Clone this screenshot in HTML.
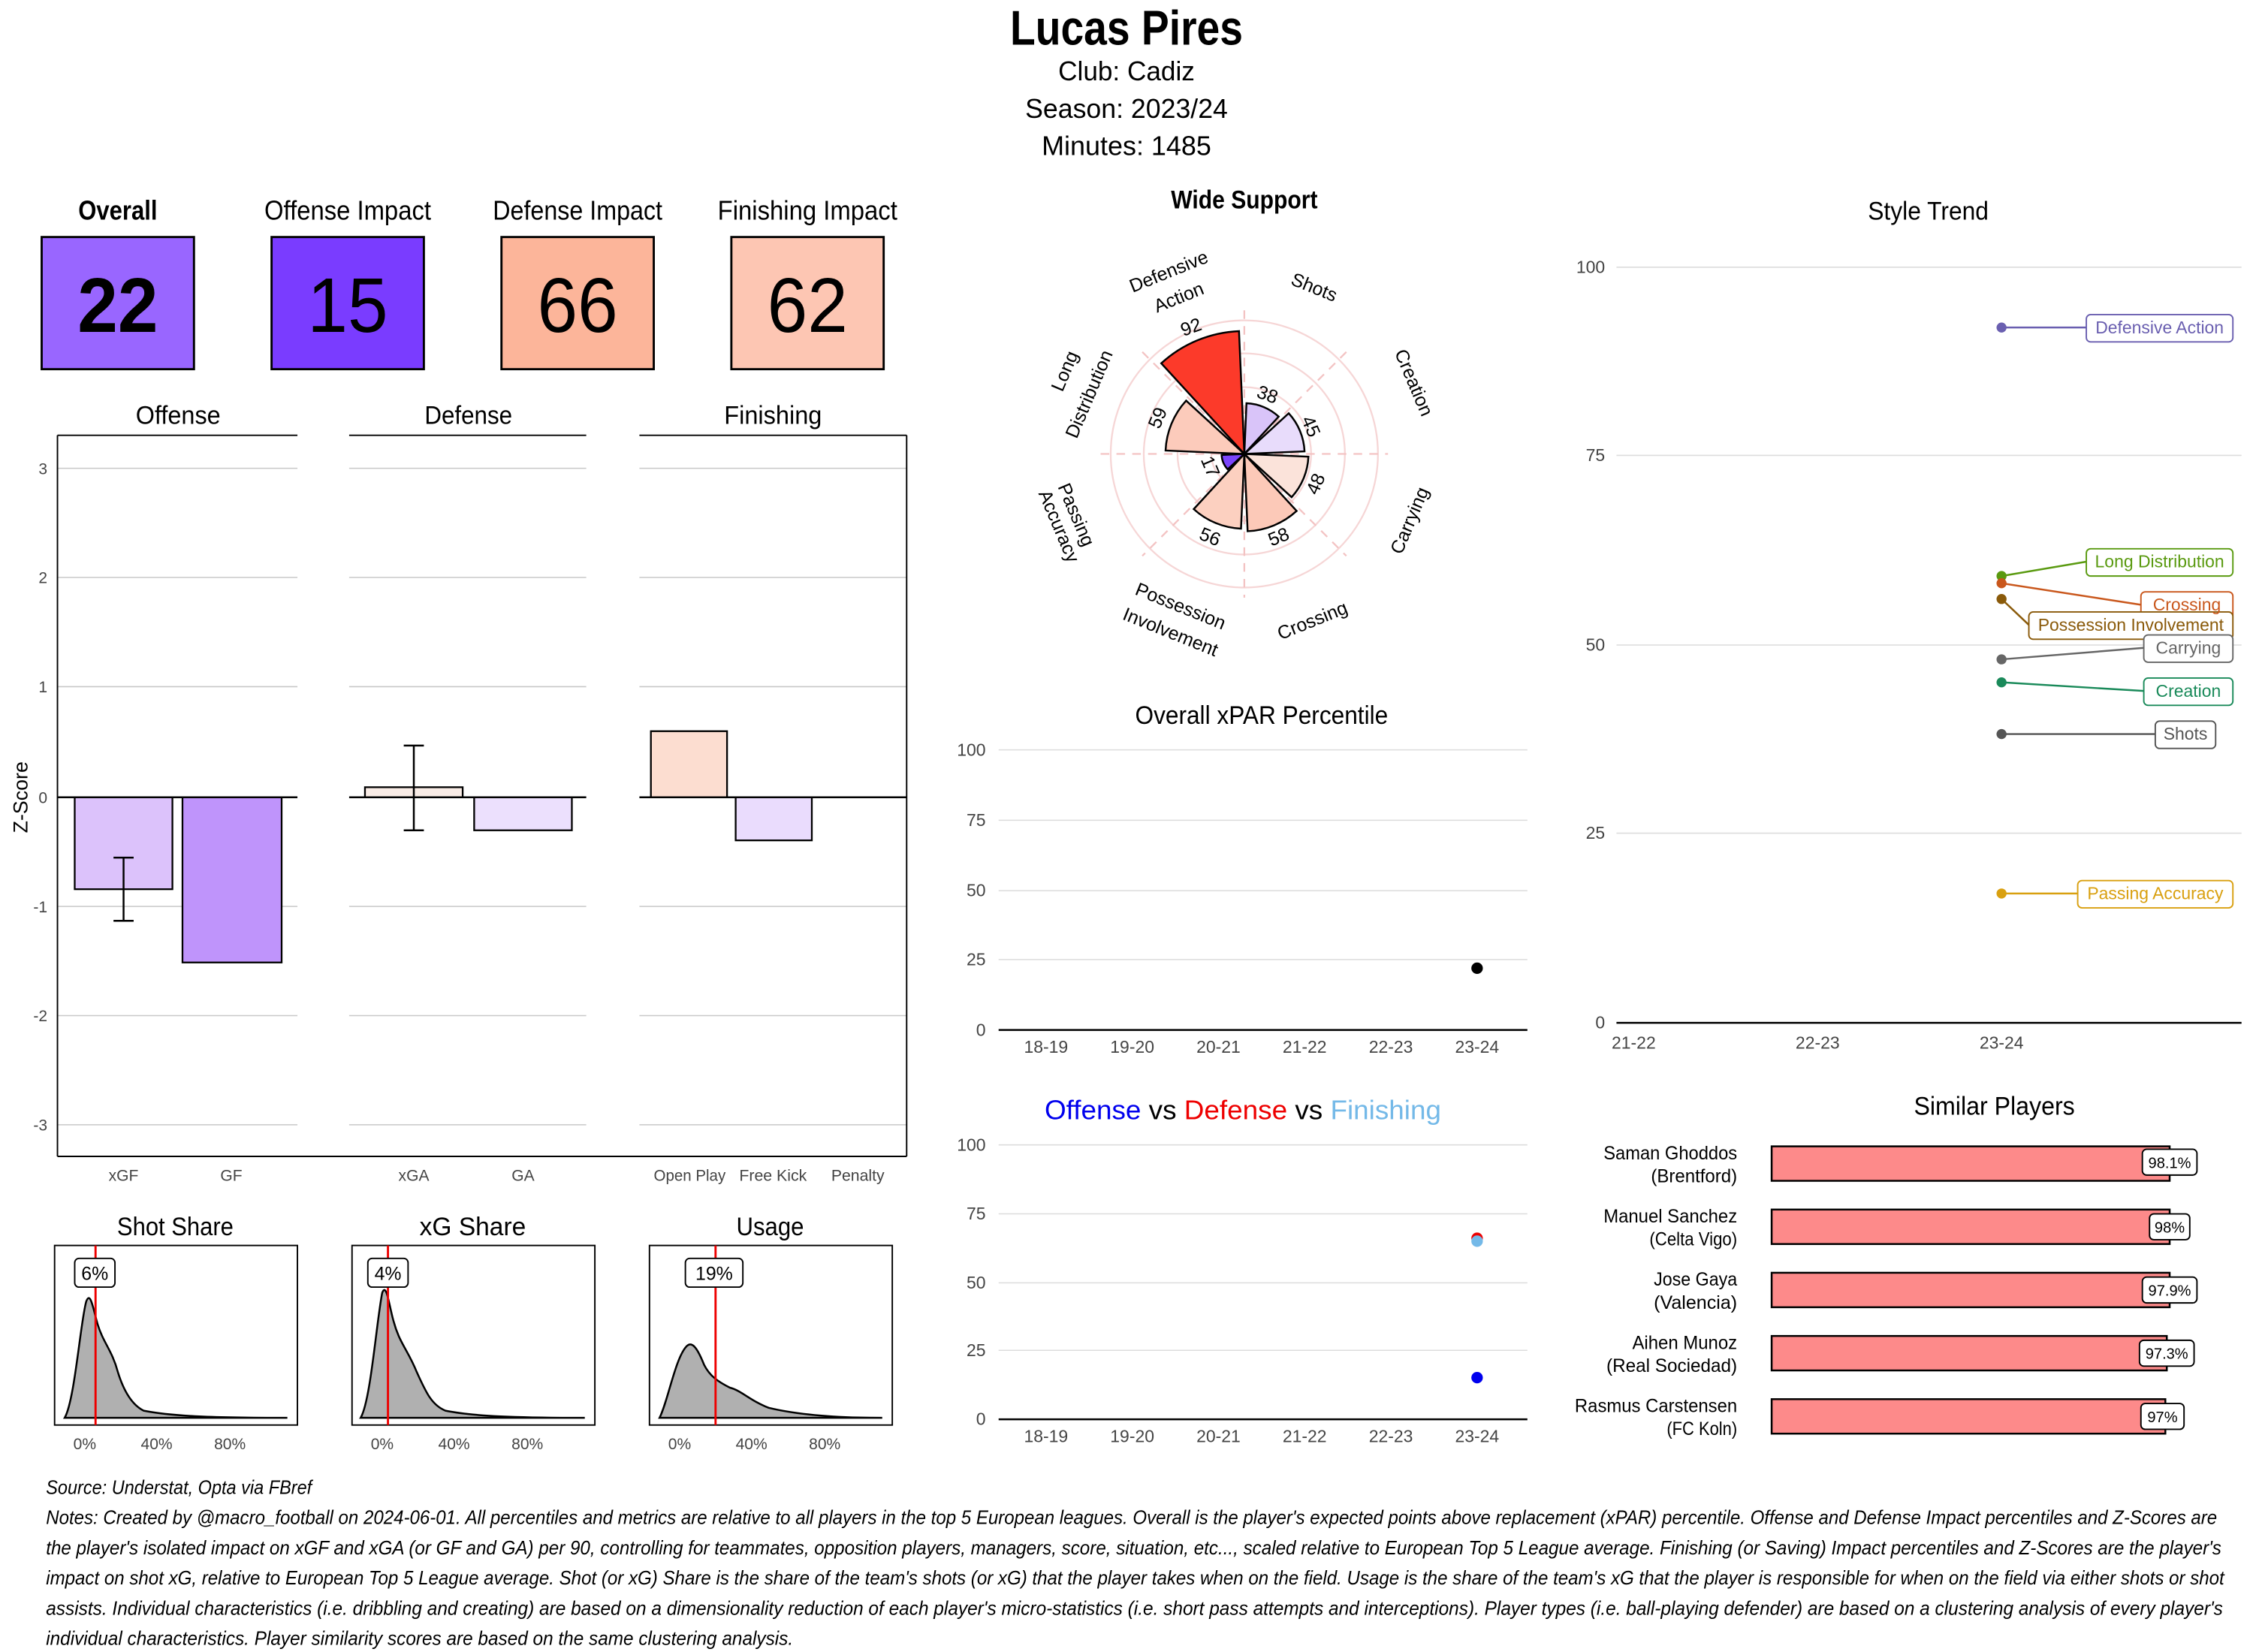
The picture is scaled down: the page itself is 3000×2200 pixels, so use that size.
<!DOCTYPE html>
<html><head><meta charset="utf-8"><style>
html,body{margin:0;padding:0;background:#fff;}
svg{display:block;}
text{font-family:"Liberation Sans Narrow","Liberation Sans",sans-serif;}
.a{font-family:"Liberation Sans",sans-serif;}
</style></head><body>
<svg width="3000" height="2200" viewBox="0 0 1568 1150" preserveAspectRatio="none" xmlns="http://www.w3.org/2000/svg">
<rect width="1568" height="1150" fill="#fff"/>
<!-- Header -->
<text x="784" y="31" text-anchor="middle" font-size="34" font-weight="bold" textLength="162" lengthAdjust="spacingAndGlyphs">Lucas Pires</text>
<text x="784" y="56" text-anchor="middle" font-size="19" textLength="95" lengthAdjust="spacingAndGlyphs">Club:  Cadiz</text>
<text x="784" y="82" text-anchor="middle" font-size="19" textLength="141" lengthAdjust="spacingAndGlyphs">Season:  2023/24</text>
<text x="784" y="108" text-anchor="middle" font-size="19" textLength="118" lengthAdjust="spacingAndGlyphs">Minutes:  1485</text>

<!-- score boxes -->
<g font-size="19" text-anchor="middle" lengthAdjust="spacingAndGlyphs">
<text x="82" y="153" font-weight="bold" textLength="55" lengthAdjust="spacingAndGlyphs">Overall</text>
<text x="242" y="153" textLength="116" lengthAdjust="spacingAndGlyphs">Offense Impact</text>
<text x="402" y="153" textLength="118" lengthAdjust="spacingAndGlyphs">Defense Impact</text>
<text x="562" y="153" textLength="125" lengthAdjust="spacingAndGlyphs">Finishing Impact</text>
</g>
<g stroke="#000" stroke-width="1.5">
<rect x="29" y="165" width="106" height="92" fill="#9966ff"/>
<rect x="189" y="165" width="106" height="92" fill="#7a3cff"/>
<rect x="349" y="165" width="106" height="92" fill="#fcb59a"/>
<rect x="509" y="165" width="106" height="92" fill="#fdc6b3"/>
</g>
<g font-size="54" text-anchor="middle">
<text x="82" y="231" font-weight="bold" textLength="56" lengthAdjust="spacingAndGlyphs">22</text>
<text x="242" y="231" textLength="56" lengthAdjust="spacingAndGlyphs">15</text>
<text x="402" y="231" textLength="56" lengthAdjust="spacingAndGlyphs">66</text>
<text x="562" y="231" textLength="56" lengthAdjust="spacingAndGlyphs">62</text>
</g>

<!-- Z-score facets -->
<g font-size="18" text-anchor="middle">
<text x="124" y="295" textLength="59" lengthAdjust="spacingAndGlyphs">Offense</text>
<text x="326" y="295" textLength="61" lengthAdjust="spacingAndGlyphs">Defense</text>
<text x="538" y="295" textLength="68" lengthAdjust="spacingAndGlyphs">Finishing</text>
</g>
<g stroke="#c8c8c8" stroke-width="0.8">
<line x1="40" x2="207" y1="326" y2="326"/><line x1="40" x2="207" y1="402" y2="402"/><line x1="40" x2="207" y1="478" y2="478"/><line x1="40" x2="207" y1="631" y2="631"/><line x1="40" x2="207" y1="707" y2="707"/><line x1="40" x2="207" y1="783" y2="783"/>
<line x1="243" x2="408" y1="326" y2="326"/><line x1="243" x2="408" y1="402" y2="402"/><line x1="243" x2="408" y1="478" y2="478"/><line x1="243" x2="408" y1="631" y2="631"/><line x1="243" x2="408" y1="707" y2="707"/><line x1="243" x2="408" y1="783" y2="783"/>
<line x1="445" x2="631" y1="326" y2="326"/><line x1="445" x2="631" y1="402" y2="402"/><line x1="445" x2="631" y1="478" y2="478"/><line x1="445" x2="631" y1="631" y2="631"/><line x1="445" x2="631" y1="707" y2="707"/><line x1="445" x2="631" y1="783" y2="783"/>
</g>
<g stroke="#000" stroke-width="1">
<line x1="40" x2="207" y1="303" y2="303"/><line x1="243" x2="408" y1="303" y2="303"/><line x1="445" x2="631" y1="303" y2="303"/>
<line x1="40" x2="40" y1="303" y2="805"/><line x1="40" x2="631" y1="805" y2="805"/><line x1="631" x2="631" y1="303" y2="805"/>
</g>
<g stroke="#000" stroke-width="1.2">
<rect x="52" y="555" width="68" height="64" fill="#dcc2fb"/>
<rect x="127" y="555" width="69" height="115" fill="#bf94fb"/>
<rect x="254" y="548" width="68" height="7" fill="#f9ece6"/>
<rect x="330" y="555" width="68" height="23" fill="#ece0fd"/>
<rect x="453" y="509" width="53" height="46" fill="#fcddd0"/>
<rect x="512" y="555" width="53" height="30" fill="#eadcfd"/>
</g>
<g stroke="#000" stroke-width="1.3">
<line x1="40" x2="207" y1="555" y2="555"/><line x1="243" x2="408" y1="555" y2="555"/><line x1="445" x2="631" y1="555" y2="555"/>
<line x1="86" x2="86" y1="597" y2="641"/><line x1="79" x2="93" y1="597" y2="597"/><line x1="79" x2="93" y1="641" y2="641"/>
<line x1="288" x2="288" y1="519" y2="578"/><line x1="281" x2="295" y1="519" y2="519"/><line x1="281" x2="295" y1="578" y2="578"/>
</g>
<g font-size="11" fill="#444" text-anchor="end">
<text x="33" y="330">3</text><text x="33" y="406">2</text><text x="33" y="482">1</text><text x="33" y="559">0</text><text x="33" y="635">-1</text><text x="33" y="711">-2</text><text x="33" y="787">-3</text>
</g>
<text transform="translate(19,555) rotate(-90)" text-anchor="middle" font-size="14">Z-Score</text>
<g font-size="11" fill="#444" text-anchor="middle">
<text x="86" y="822">xGF</text><text x="161" y="822">GF</text><text x="288" y="822">xGA</text><text x="364" y="822">GA</text>
<text x="480" y="822" textLength="50" lengthAdjust="spacingAndGlyphs">Open Play</text><text x="538" y="822" textLength="47" lengthAdjust="spacingAndGlyphs">Free Kick</text><text x="597" y="822" textLength="37" lengthAdjust="spacingAndGlyphs">Penalty</text>
</g>

<!-- share panels -->
<g font-size="18" text-anchor="middle">
<text x="122" y="860" textLength="81" lengthAdjust="spacingAndGlyphs">Shot Share</text><text x="329" y="860" textLength="74" lengthAdjust="spacingAndGlyphs">xG Share</text><text x="536" y="860" textLength="47" lengthAdjust="spacingAndGlyphs">Usage</text>
</g>
<g fill="#b0b0b0" stroke="#000" stroke-width="1.3">
<path d="M45,987 C52,975 56,920 60,906 C63,898 65,912 68,922 C72,935 78,940 82,955 C86,968 92,978 100,982 C120,986 150,987 200,987 L200,987 Z"/>
<path d="M251,987 C258,975 262,920 266,900 C269,892 271,910 274,920 C278,935 284,940 290,955 C296,968 300,978 310,982 C330,986 360,987 407,987 Z"/>
<path d="M459,987 C465,975 470,945 478,937 C482,933 486,940 490,950 C494,958 500,962 508,966 C516,968 522,975 535,980 C560,986 590,987 614,987 Z"/>
</g>
<g fill="none" stroke="#000" stroke-width="1">
<rect x="38" y="867" width="169" height="125"/><rect x="245" y="867" width="169" height="125"/><rect x="452" y="867" width="169" height="125"/>
</g>
<g stroke="#e00" stroke-width="1.5">
<line x1="66.5" x2="66.5" y1="867" y2="992"/><line x1="270" x2="270" y1="867" y2="992"/><line x1="498" x2="498" y1="867" y2="992"/>
</g>
<g fill="#fff" stroke="#000" stroke-width="1">
<rect x="52" y="876" width="28" height="20" rx="3"/><rect x="256" y="876" width="28" height="20" rx="3"/><rect x="477" y="876" width="40" height="20" rx="3"/>
</g>
<g font-size="13" text-anchor="middle" class="a">
<text x="66" y="891">6%</text><text x="270" y="891">4%</text><text x="497" y="891">19%</text>
</g>
<g font-size="11" fill="#444" text-anchor="middle">
<text x="59" y="1009">0%</text><text x="109" y="1009">40%</text><text x="160" y="1009">80%</text>
<text x="266" y="1009">0%</text><text x="316" y="1009">40%</text><text x="367" y="1009">80%</text>
<text x="473" y="1009">0%</text><text x="523" y="1009">40%</text><text x="574" y="1009">80%</text>
</g>

<!-- Polar -->
<text x="866" y="145" text-anchor="middle" font-size="18" font-weight="bold" textLength="102" lengthAdjust="spacingAndGlyphs">Wide Support</text>
<g fill="none" stroke="#f6d6d6" stroke-width="1.2">
<circle cx="866" cy="316" r="23"/><circle cx="866" cy="316" r="46.5"/><circle cx="866" cy="316" r="70"/><circle cx="866" cy="316" r="93"/>
</g>
<g stroke="#f3c3c3" stroke-width="1.2" stroke-dasharray="6,5">
<line x1="866" y1="216" x2="866" y2="416"/><line x1="766" y1="316" x2="966" y2="316"/>
<line x1="795" y1="245" x2="937" y2="387"/><line x1="937" y1="245" x2="795" y2="387"/>
</g>
<g stroke="#000" stroke-width="1.3">
<path d="M866,316 L867.5,280.7 A35.3,35.3 0 0 1 889.9,290 Z" fill="#d9c4f9"/>
<path d="M866,316 L896.9,287.7 A41.9,41.9 0 0 1 907.9,314.2 Z" fill="#e8dcfb"/>
<path d="M866,316 L910.6,317.9 A44.6,44.6 0 0 1 898.9,346.1 Z" fill="#fbe3da"/>
<path d="M866,316 L902.4,355.7 A53.9,53.9 0 0 1 868.3,369.8 Z" fill="#fcc9b8"/>
<path d="M866,316 L863.7,368 A52.1,52.1 0 0 1 830.8,354.4 Z" fill="#fcd0c0"/>
<path d="M866,316 L854.4,326.7 A15.8,15.8 0 0 1 850.2,316.7 Z" fill="#7b45fb"/>
<path d="M866,316 L811.2,313.6 A54.9,54.9 0 0 1 825.5,278.9 Z" fill="#fccbbb"/>
<path d="M866,316 L808.2,252.9 A85.6,85.6 0 0 1 862.3,230.5 Z" fill="#fc3a2a"/>
</g>
<g font-size="13" class="a" text-anchor="middle">
<text x="829" y="232" transform="rotate(-20 829 228)">92</text>
<text x="882" y="279" transform="rotate(20 882 275)">38</text>
<text x="912" y="301" transform="rotate(67 912 297)">45</text>
<text x="916" y="341" transform="rotate(-67 916 337)">48</text>
<text x="890" y="378" transform="rotate(-22 890 374)">58</text>
<text x="842" y="378" transform="rotate(22 842 374)">56</text>
<text x="842" y="329" transform="rotate(67 842 325)">17</text>
<text x="806" y="295" transform="rotate(-67 806 291)">59</text>
</g>
<g font-size="13" class="a" text-anchor="middle">
<text transform="translate(815,193) rotate(-22)">Defensive</text>
<text transform="translate(822,211) rotate(-22)">Action</text>
<text transform="translate(913,204) rotate(22)">Shots</text>
<text transform="translate(980,268) rotate(67)">Creation</text>
<text transform="translate(985,364) rotate(-67)">Carrying</text>
<text transform="translate(915,436) rotate(-22)">Crossing</text>
<text transform="translate(820,426) rotate(22)">Possession</text>
<text transform="translate(813,444) rotate(22)">Involvement</text>
<text transform="translate(745,360) rotate(67)">Passing</text>
<text transform="translate(733,368) rotate(67)">Accuracy</text>
<text transform="translate(745,260) rotate(-67)">Long</text>
<text transform="translate(762,276) rotate(-67)">Distribution</text>
</g>

<!-- Overall xPAR -->
<text x="878" y="504" text-anchor="middle" font-size="18" textLength="176" lengthAdjust="spacingAndGlyphs">Overall xPAR Percentile</text>
<g stroke="#dcdcdc" stroke-width="0.8">
<line x1="695" x2="1063" y1="522" y2="522"/><line x1="695" x2="1063" y1="571" y2="571"/><line x1="695" x2="1063" y1="620" y2="620"/><line x1="695" x2="1063" y1="668" y2="668"/>
<line x1="695" x2="1063" y1="797" y2="797"/><line x1="695" x2="1063" y1="845" y2="845"/><line x1="695" x2="1063" y1="893" y2="893"/><line x1="695" x2="1063" y1="940" y2="940"/>
</g>
<line x1="695" x2="1063" y1="717" y2="717" stroke="#000" stroke-width="1.3"/>
<line x1="695" x2="1063" y1="988" y2="988" stroke="#000" stroke-width="1.3"/>
<g font-size="12" fill="#444" text-anchor="end" class="a">
<text x="686" y="526">100</text><text x="686" y="575">75</text><text x="686" y="624">50</text><text x="686" y="672">25</text><text x="686" y="721">0</text>
<text x="686" y="801">100</text><text x="686" y="849">75</text><text x="686" y="897">50</text><text x="686" y="944">25</text><text x="686" y="992">0</text>
</g>
<g font-size="12" fill="#444" text-anchor="middle" class="a">
<text x="728" y="733">18-19</text><text x="788" y="733">19-20</text><text x="848" y="733">20-21</text><text x="908" y="733">21-22</text><text x="968" y="733">22-23</text><text x="1028" y="733">23-24</text>
<text x="728" y="1004">18-19</text><text x="788" y="1004">19-20</text><text x="848" y="1004">20-21</text><text x="908" y="1004">21-22</text><text x="968" y="1004">22-23</text><text x="1028" y="1004">23-24</text>
</g>
<circle cx="1028" cy="674" r="4" fill="#000"/>
<text x="865" y="779" text-anchor="middle" font-size="19" textLength="276" lengthAdjust="spacingAndGlyphs"><tspan fill="#0000ee">Offense</tspan><tspan fill="#000">  vs  </tspan><tspan fill="#e00">Defense</tspan><tspan fill="#000">  vs  </tspan><tspan fill="#74b9e8">Finishing</tspan></text>
<circle cx="1028" cy="862" r="4" fill="#e00"/>
<circle cx="1028" cy="864" r="4" fill="#74b9e8"/>
<circle cx="1028" cy="959" r="4" fill="#0000ee"/>

<!-- Style trend -->
<text x="1342" y="153" text-anchor="middle" font-size="18" textLength="84" lengthAdjust="spacingAndGlyphs">Style Trend</text>
<g stroke="#dcdcdc" stroke-width="0.8">
<line x1="1125" x2="1560" y1="186" y2="186"/><line x1="1125" x2="1560" y1="317" y2="317"/><line x1="1125" x2="1560" y1="449" y2="449"/><line x1="1125" x2="1560" y1="580" y2="580"/>
</g>
<line x1="1125" x2="1560" y1="712" y2="712" stroke="#000" stroke-width="1.3"/>
<g font-size="12" fill="#444" text-anchor="end" class="a">
<text x="1117" y="190">100</text><text x="1117" y="321">75</text><text x="1117" y="453">50</text><text x="1117" y="584">25</text><text x="1117" y="716">0</text>
</g>
<g font-size="12" fill="#444" text-anchor="middle" class="a">
<text x="1137" y="730">21-22</text><text x="1265" y="730">22-23</text><text x="1393" y="730">23-24</text>
</g>
<g stroke-width="1.3" fill="none">
<path d="M1393,228 L1452,228" stroke="#6a5fb0"/>
<path d="M1393,401 L1452,391" stroke="#5a9a10"/>
<path d="M1393,406 L1490,421" stroke="#c9571c"/>
<path d="M1393,417 L1412,435" stroke="#8a5a0a"/>
<path d="M1393,459 L1492,451" stroke="#666"/>
<path d="M1393,475 L1492,481" stroke="#1a8a5a"/>
<path d="M1393,511 L1500,511" stroke="#555"/>
<path d="M1393,622 L1446,622" stroke="#d9a010"/>
</g>
<circle cx="1393" cy="228" r="3.5" fill="#6a5fb0"/>
<circle cx="1393" cy="401" r="3.5" fill="#5a9a10"/>
<circle cx="1393" cy="406" r="3.5" fill="#c9571c"/>
<circle cx="1393" cy="417" r="3.5" fill="#8a5a0a"/>
<circle cx="1393" cy="459" r="3.5" fill="#666"/>
<circle cx="1393" cy="475" r="3.5" fill="#1a8a5a"/>
<circle cx="1393" cy="511" r="3.5" fill="#555"/>
<circle cx="1393" cy="622" r="3.5" fill="#d9a010"/>
<g fill="#fff" stroke-width="1">
<rect x="1452" y="219" width="102" height="19" rx="3" stroke="#6a5fb0"/>
<rect x="1452" y="382" width="102" height="19" rx="3" stroke="#5a9a10"/>
<rect x="1490" y="412" width="64" height="19" rx="3" stroke="#c9571c"/>
<rect x="1412" y="426" width="142" height="19" rx="3" stroke="#8a5a0a"/>
<rect x="1492" y="442" width="62" height="19" rx="3" stroke="#666"/>
<rect x="1492" y="472" width="62" height="19" rx="3" stroke="#1a8a5a"/>
<rect x="1500" y="502" width="42" height="19" rx="3" stroke="#555"/>
<rect x="1446" y="613" width="108" height="19" rx="3" stroke="#d9a010"/>
</g>
<g font-size="12" class="a" text-anchor="middle">
<text x="1503" y="232" fill="#6a5fb0">Defensive Action</text>
<text x="1503" y="395" fill="#5a9a10">Long Distribution</text>
<text x="1522" y="425" fill="#c9571c">Crossing</text>
<text x="1483" y="439" fill="#8a5a0a">Possession Involvement</text>
<text x="1523" y="455" fill="#666">Carrying</text>
<text x="1523" y="485" fill="#1a8a5a">Creation</text>
<text x="1521" y="515" fill="#555">Shots</text>
<text x="1500" y="626" fill="#d9a010">Passing Accuracy</text>
</g>

<!-- Similar players -->
<text x="1388" y="776" text-anchor="middle" font-size="18" textLength="112" lengthAdjust="spacingAndGlyphs">Similar Players</text>
<g fill="#fd8a8a" stroke="#000" stroke-width="1.3">
<rect x="1233" y="798" width="277" height="24"/>
<rect x="1233" y="842" width="277" height="24"/>
<rect x="1233" y="886" width="277" height="24"/>
<rect x="1233" y="930" width="275" height="24"/>
<rect x="1233" y="974" width="274" height="24"/>
</g>
<g fill="#fff" stroke="#000" stroke-width="1">
<rect x="1491" y="800" width="38" height="18" rx="3"/>
<rect x="1496" y="845" width="28" height="18" rx="3"/>
<rect x="1491" y="889" width="38" height="18" rx="3"/>
<rect x="1489" y="933" width="38" height="18" rx="3"/>
<rect x="1490" y="977" width="30" height="18" rx="3"/>
</g>
<g font-size="10.5" class="a" text-anchor="middle">
<text x="1510" y="813">98.1%</text><text x="1510" y="858">98%</text><text x="1510" y="902">97.9%</text><text x="1508" y="946">97.3%</text><text x="1505" y="990">97%</text>
</g>
<g font-size="13" text-anchor="end">
<text x="1209" y="807" textLength="93" lengthAdjust="spacingAndGlyphs">Saman Ghoddos</text><text x="1209" y="823" textLength="60" lengthAdjust="spacingAndGlyphs">(Brentford)</text>
<text x="1209" y="851" textLength="93" lengthAdjust="spacingAndGlyphs">Manuel Sanchez</text><text x="1209" y="867" textLength="61" lengthAdjust="spacingAndGlyphs">(Celta Vigo)</text>
<text x="1209" y="895" textLength="58" lengthAdjust="spacingAndGlyphs">Jose Gaya</text><text x="1209" y="911" textLength="58" lengthAdjust="spacingAndGlyphs">(Valencia)</text>
<text x="1209" y="939" textLength="73" lengthAdjust="spacingAndGlyphs">Aihen Munoz</text><text x="1209" y="955" textLength="91" lengthAdjust="spacingAndGlyphs">(Real Sociedad)</text>
<text x="1209" y="983" textLength="113" lengthAdjust="spacingAndGlyphs">Rasmus Carstensen</text><text x="1209" y="999" textLength="49" lengthAdjust="spacingAndGlyphs">(FC Koln)</text>
</g>

<!-- Footer -->
<g font-size="13.5" font-style="italic">
<text x="32" y="1040" textLength="185" lengthAdjust="spacingAndGlyphs">Source: Understat, Opta via FBref</text>
<text x="32" y="1061" textLength="1511" lengthAdjust="spacingAndGlyphs">Notes: Created by @macro_football on 2024-06-01. All percentiles and metrics are relative to all players in the top 5 European leagues. Overall is the player's expected points above replacement (xPAR) percentile. Offense and Defense Impact percentiles and Z-Scores are</text>
<text x="32" y="1082" textLength="1514" lengthAdjust="spacingAndGlyphs">the player's isolated impact on xGF and xGA (or GF and GA) per 90, controlling for teammates, opposition players, managers, score, situation, etc..., scaled relative to European Top 5 League average. Finishing (or Saving) Impact percentiles and Z-Scores are the player's</text>
<text x="32" y="1103" textLength="1516" lengthAdjust="spacingAndGlyphs">impact on shot xG, relative to European Top 5 League average. Shot (or xG) Share is the share of the team's shots (or xG) that the player takes when on the field. Usage is the share of the team's xG that the player is responsible for when on the field via either shots or shot</text>
<text x="32" y="1124" textLength="1515" lengthAdjust="spacingAndGlyphs">assists. Individual characteristics (i.e. dribbling and creating) are based on a dimensionality reduction of each player's micro-statistics (i.e. short pass attempts and interceptions). Player types (i.e. ball-playing defender) are based on a clustering analysis of every player's</text>
<text x="32" y="1145" textLength="520" lengthAdjust="spacingAndGlyphs">individual characteristics. Player similarity scores are based on the same clustering analysis.</text>
</g>
</svg>
</body></html>
